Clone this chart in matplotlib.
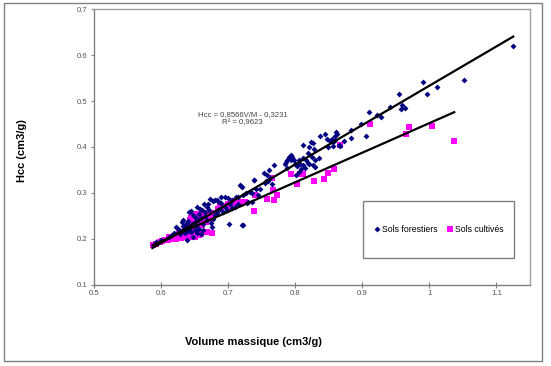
import numpy as np
import matplotlib.pyplot as plt
from matplotlib.patches import Rectangle

plt.rcParams['font.family'] = ['Liberation Sans', 'DejaVu Sans']

# Sols forestiers (volume massique, Hcc)
foret_x = [1.124, 1.051, 1.011, 0.997, 0.990, 0.954, 0.959, 0.958, 0.964, 0.942,
           0.922, 0.928, 0.910, 0.898, 0.905, 0.883, 0.883, 0.873, 0.861, 0.859,
           0.845, 0.837, 0.848, 0.852, 0.857, 0.855, 0.860, 0.863, 0.865, 0.857,
           0.867, 0.849,
           0.823, 0.826, 0.821, 0.828, 0.819, 0.825, 0.829, 0.821, 0.827, 0.830,
           0.816, 0.819, 0.811, 0.811, 0.806, 0.807, 0.803, 0.809, 0.801, 0.800,
           0.798, 0.795, 0.793, 0.790, 0.787, 0.786, 0.785, 0.812, 0.815, 0.835,
           0.805, 0.788, 0.794,
           0.769, 0.761, 0.753, 0.738, 0.757, 0.755, 0.760, 0.748, 0.733, 0.736,
           0.745, 0.765, 0.727, 0.722, 0.711, 0.717, 0.719, 0.721, 0.715, 0.722,
           0.701, 0.706, 0.703, 0.695, 0.690, 0.689, 0.681, 0.678, 0.683, 0.683,
           0.685, 0.680, 0.677, 0.673, 0.670, 0.664, 0.658, 0.654, 0.645, 0.642,
           0.648, 0.633, 0.631, 0.638, 0.640, 0.646, 0.644, 0.622, 0.625, 0.627,
           0.632, 0.638, 0.647, 0.675, 0.676, 0.666, 0.660, 0.655, 0.650, 0.636,
           0.641, 0.652, 0.657, 0.662, 0.668, 0.672, 0.688, 0.692, 0.698, 0.705,
           0.710, 0.714, 0.700, 0.695, 0.686, 0.665, 0.661, 0.668, 0.656, 0.650,
           0.620, 0.628, 0.635, 0.645, 0.654, 0.660, 0.612, 0.600, 0.593, 0.616,
           0.632, 0.640, 0.650, 0.662, 0.728, 0.735, 0.742, 0.758, 0.763, 0.739,
           0.729, 0.720]
foret_y = [0.620, 0.545, 0.531, 0.515, 0.541, 0.515, 0.491, 0.483, 0.485, 0.487,
           0.469, 0.465, 0.476, 0.450, 0.423, 0.438, 0.420, 0.414, 0.433, 0.425,
           0.429, 0.423, 0.418, 0.412, 0.411, 0.417, 0.415, 0.428, 0.405, 0.402,
           0.402, 0.401,
           0.410, 0.408, 0.400, 0.395, 0.386, 0.378, 0.371, 0.364, 0.360, 0.356,
           0.371, 0.366, 0.404, 0.375, 0.371, 0.364, 0.358, 0.351, 0.338, 0.364,
           0.371, 0.378, 0.382, 0.378, 0.372, 0.367, 0.362, 0.360, 0.355, 0.375,
           0.345, 0.355, 0.371,
           0.361, 0.350, 0.343, 0.329, 0.327, 0.322, 0.325, 0.308, 0.302, 0.280,
           0.295, 0.320, 0.300, 0.296, 0.292, 0.318, 0.315, 0.313, 0.290, 0.229,
           0.232, 0.284, 0.276, 0.269, 0.279, 0.291, 0.285, 0.282, 0.284, 0.256,
           0.262, 0.252, 0.244, 0.287, 0.275, 0.275, 0.266, 0.269, 0.261, 0.258,
           0.252, 0.240, 0.237, 0.235, 0.239, 0.232, 0.226, 0.226, 0.222, 0.219,
           0.219, 0.198, 0.203, 0.235, 0.226, 0.250, 0.245, 0.240, 0.236, 0.229,
           0.224, 0.228, 0.222, 0.232, 0.240, 0.262, 0.266, 0.258, 0.262, 0.268,
           0.270, 0.275, 0.288, 0.290, 0.280, 0.258, 0.262, 0.270, 0.255, 0.248,
           0.212, 0.210, 0.212, 0.215, 0.212, 0.210, 0.205, 0.198, 0.192, 0.208,
           0.228, 0.216, 0.220, 0.220, 0.279, 0.299, 0.309, 0.339, 0.332, 0.329,
           0.281, 0.230]

# Sols cultivés
cultive_x = [0.588, 0.593, 0.599, 0.602, 0.606, 0.611, 0.614, 0.618, 0.622, 0.626,
             0.630, 0.634, 0.638, 0.642, 0.646, 0.651, 0.612, 0.620, 0.627, 0.638,
             0.646, 0.654, 0.661, 0.667, 0.672, 0.680, 0.643, 0.648, 0.654, 0.647,
             0.651, 0.659, 0.656, 0.669, 0.676, 0.675, 0.685, 0.688, 0.694, 0.703,
             0.706, 0.710, 0.719, 0.725, 0.739, 0.740, 0.758, 0.768, 0.773, 0.767,
             0.765, 0.793, 0.807, 0.811, 0.802, 0.828, 0.843, 0.849, 0.858, 0.866,
             0.912, 0.965, 0.970, 1.004, 1.036,
             0.630, 0.635, 0.642, 0.650, 0.657, 0.664, 0.668, 0.660, 0.645, 0.652,
             0.658, 0.662, 0.700, 0.715, 0.690]
cultive_y = [0.186, 0.189, 0.192, 0.195, 0.197, 0.198, 0.200, 0.199, 0.200, 0.201,
             0.201, 0.203, 0.204, 0.203, 0.207, 0.204, 0.204, 0.207, 0.210, 0.215,
             0.220, 0.226, 0.230, 0.237, 0.244, 0.255, 0.240, 0.249, 0.255, 0.247,
             0.247, 0.211, 0.208, 0.214, 0.213, 0.256, 0.266, 0.271, 0.272, 0.269,
             0.282, 0.277, 0.280, 0.280, 0.261, 0.296, 0.286, 0.284, 0.296, 0.307,
             0.333, 0.341, 0.341, 0.341, 0.319, 0.325, 0.331, 0.343, 0.352, 0.404,
             0.451, 0.428, 0.443, 0.446, 0.414,
             0.215, 0.222, 0.228, 0.232, 0.240, 0.248, 0.252, 0.236, 0.245, 0.243,
             0.250, 0.257, 0.275, 0.278, 0.265]

# trend lines (slope, intercept, x range)
foret_fit = (0.8566, -0.3231)
foret_range = (0.587, 1.125)
cultive_fit = (0.644, -0.192)
cultive_range = (0.587, 1.037)

x_ticks = [0.5, 0.6, 0.7, 0.8, 0.9, 1.0, 1.1]
x_tick_labels = ['0.5', '0.6', '0.7', '0.8', '0.9', '1', '1.1']
y_ticks = [0.1, 0.2, 0.3, 0.4, 0.5, 0.6, 0.7]
y_tick_labels = ['0.1', '0.2', '0.3', '0.4', '0.5', '0.6', '0.7']

W, H = 551, 366
fig = plt.figure(figsize=(W / 100, H / 100), dpi=100)
ax = fig.add_axes([94 / W, 1 - 284.7 / H, (530 - 94) / W, (284.7 - 9.3) / H])

ax.plot(cultive_x, cultive_y, 's', color='#FF00FF', markersize=3.7,
        markeredgewidth=0, label='Sols cultivés', zorder=3)
ax.plot(foret_x, foret_y, 'D', color='#000080', markersize=3.0,
        markeredgewidth=0, label='Sols forestiers', zorder=4)

for fit, rng in [(foret_fit, foret_range), (cultive_fit, cultive_range)]:
    xs = np.array(rng)
    ax.plot(xs, fit[0] * xs + fit[1], color='black', linewidth=1.6, zorder=5)

ax.set_xlim(0.5, 1.15)
ax.set_ylim(0.1, 0.7)
ax.set_xticks(x_ticks)
ax.set_xticklabels(x_tick_labels)
ax.set_yticks(y_ticks)
ax.set_yticklabels(y_tick_labels)
ax.tick_params(labelsize=5.6, labelcolor='#555555', color='#808080',
               length=2.5, width=0.8, pad=2)
ax.tick_params(axis='x', direction='inout', length=4)
ax.tick_params(axis='y', direction='out')
for s in ['left', 'bottom']:
    ax.spines[s].set_color('#808080')
    ax.spines[s].set_linewidth(1.0)
for s in ['top', 'right']:
    ax.spines[s].set_color('#a0a0a0')
    ax.spines[s].set_linewidth(1.0)

# equation
fig.text(242.5 / W, 1 - 115 / H, 'Hcc = 0,8566V/M - 0,3231', ha='center',
         va='center', fontsize=5.6, color='#444444')
fig.text(242.5 / W, 1 - 123 / H, 'R² = 0,9623', ha='center', va='center',
         fontsize=5.6, color='#444444')

# axis titles
fig.text(22 / W, 1 - 151 / H, 'Hcc (cm3/g)', rotation=90, ha='center',
         va='center', fontsize=8, fontweight='bold')
fig.text(253.6 / W, 1 - 341.7 / H, 'Volume massique (cm3/g)', ha='center',
         va='center', fontsize=8, fontweight='bold')

# legend box
fig.patches.append(Rectangle((363 / W, 1 - 258.3 / H), (514.3 - 363) / W,
                             (258.3 - 201.3) / H, transform=fig.transFigure,
                             facecolor='white', edgecolor='#808080',
                             linewidth=1.0, zorder=6))
handles, labels = ax.get_legend_handles_labels()
leg = fig.legend(handles[::-1], labels[::-1], loc='center',
                 bbox_to_anchor=(439 / W, 1 - 230 / H), ncol=2, frameon=False,
                 fontsize=6.3, handlelength=0.6, handletextpad=0.3,
                 columnspacing=1.0, borderpad=0)
leg.set_zorder(7)

# outer chart border
fig.patches.append(Rectangle((4 / W, 1 - 361 / H), (542 - 4) / W, (361 - 3) / H,
                             transform=fig.transFigure, fill=False,
                             edgecolor='#808080', linewidth=1.0))

fig.savefig('out.png', dpi=100)
